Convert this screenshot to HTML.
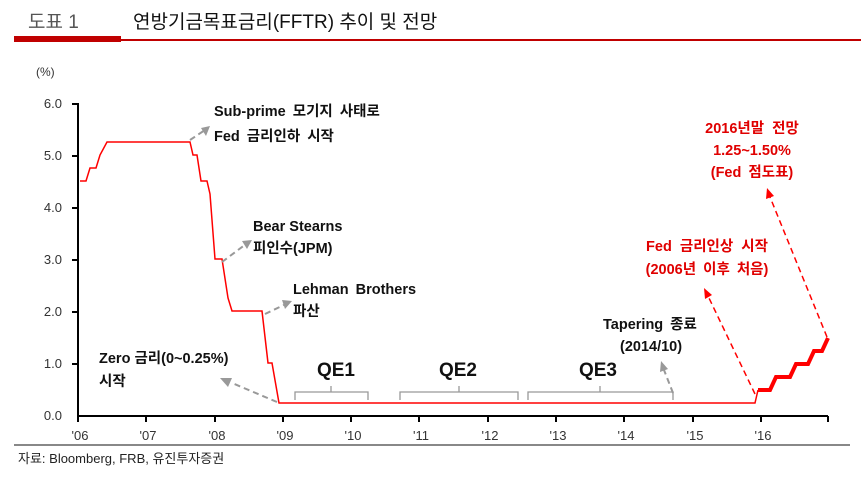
<!DOCTYPE html>
<html><head><meta charset="utf-8"><style>
body{margin:0;width:861px;height:476px;background:#fff;overflow:hidden;font-family:"Liberation Sans","Noto Sans CJK KR",sans-serif}
</style></head><body>
<svg width="861" height="476" xmlns="http://www.w3.org/2000/svg" font-family="Liberation Sans, Noto Sans CJK KR, sans-serif">
<text x="28" y="28" font-size="19" fill="#555">도표 1</text>
<text x="133" y="28" font-size="19" fill="#111">연방기금목표금리(FFTR) 추이 및 전망</text>
<rect x="14" y="36" width="107" height="6" fill="#c00000"/>
<rect x="121" y="39" width="740" height="2" fill="#c00000"/>
<text x="36" y="76" font-size="12" fill="#333">(%)</text>
<g font-size="13" fill="#333" text-anchor="end">
<text x="62" y="108">6.0</text><text x="62" y="160">5.0</text><text x="62" y="212">4.0</text>
<text x="62" y="264">3.0</text><text x="62" y="316">2.0</text><text x="62" y="368">1.0</text><text x="62" y="420">0.0</text>
</g>
<g stroke="#000" stroke-width="2" fill="none">
<path d="M72 104H78V416H828"/>
<path d="M72 156H78M72 208H78M72 260H78M72 312H78M72 364H78"/>
<path d="M78 416v6M146 416v6M215 416v6M283 416v6M351 416v6M419 416v6M488 416v6M556 416v6M624 416v6M693 416v6M761 416v6M828 416v6"/>
</g>
<g font-size="13" fill="#333" text-anchor="middle">
<text x="80" y="440">'06</text><text x="148" y="440">'07</text><text x="217" y="440">'08</text><text x="285" y="440">'09</text>
<text x="353" y="440">'10</text><text x="421" y="440">'11</text><text x="490" y="440">'12</text><text x="558" y="440">'13</text>
<text x="626" y="440">'14</text><text x="695" y="440">'15</text><text x="763" y="440">'16</text>
</g>
<rect x="14" y="444" width="836" height="2" fill="#888"/>
<text x="18" y="463" font-size="13" fill="#222">자료: Bloomberg, FRB, 유진투자증권</text>
<path d="M80 181H86L90 168H96L100 155L107 142H190L193 155H197L199 168L201 181H207L210 194L215 259H222L228 298L232 311H262L265 337L268 363H272L279 403H755L758 390" stroke="#f00" stroke-width="1.5" fill="none"/>
<path d="M758 390H770L776 377H790L796 364H808L814 351H822L828 338" stroke="#f00" stroke-width="4" fill="none"/>
<g stroke="#999" stroke-width="1.3" fill="none">
<path d="M295 400V392H331V386M331 392H368V400"/>
<path d="M400 400V392H459V386M459 392H518V400"/>
<path d="M528 400V392H600V386M600 392H673V400"/>
</g>
<g font-size="19" font-weight="bold" fill="#111" text-anchor="middle">
<text x="336" y="376">QE1</text><text x="458" y="376">QE2</text><text x="598" y="376">QE3</text>
</g>
<g stroke="#999" stroke-width="2" stroke-dasharray="6,4" fill="none">
<path d="M190 140L205 130"/><path d="M222 262L246 244"/><path d="M265 314L286 304"/>
<path d="M277 402L232 383"/><path d="M673 393L664 370"/>
</g>
<g fill="#999">
<path d="M210 126L201 128L206 136Z"/><path d="M252 240L242 241L247 249Z"/><path d="M292 301L282 300L285 309Z"/>
<path d="M220 378L232 378L228 387Z"/><path d="M661 361L660 372L668 369Z"/>
</g>
<g stroke="#f00" stroke-width="1.5" stroke-dasharray="6,4" fill="none">
<path d="M755 394L708 296"/><path d="M827 337L770 197"/>
</g>
<g fill="#f00"><path d="M704 288L705 299L712 295Z"/><path d="M767 188L766 199L774 196Z"/></g>
<g font-size="14.5" font-weight="bold" fill="#111">
<text x="214" y="116" word-spacing="3">Sub-prime 모기지 사태로</text><text x="214" y="141" word-spacing="3">Fed 금리인하 시작</text>
<text x="253" y="231">Bear Stearns</text><text x="253" y="253">피인수(JPM)</text>
<text x="293" y="294" word-spacing="3">Lehman Brothers</text><text x="293" y="316">파산</text>
<text x="99" y="363">Zero 금리(0~0.25%)</text><text x="99" y="386">시작</text>
<text x="603" y="329" word-spacing="3">Tapering 종료</text><text x="620" y="351">(2014/10)</text>
</g>
<g font-size="14.5" font-weight="bold" fill="#e00000" text-anchor="middle">
<text x="752" y="133" word-spacing="4">2016년말 전망</text><text x="752" y="155">1.25~1.50%</text><text x="752" y="177" word-spacing="3">(Fed 점도표)</text>
<text x="707" y="251" word-spacing="4">Fed 금리인상 시작</text><text x="707" y="274" word-spacing="3">(2006년 이후 처음)</text>
</g>
</svg>
</body></html>
